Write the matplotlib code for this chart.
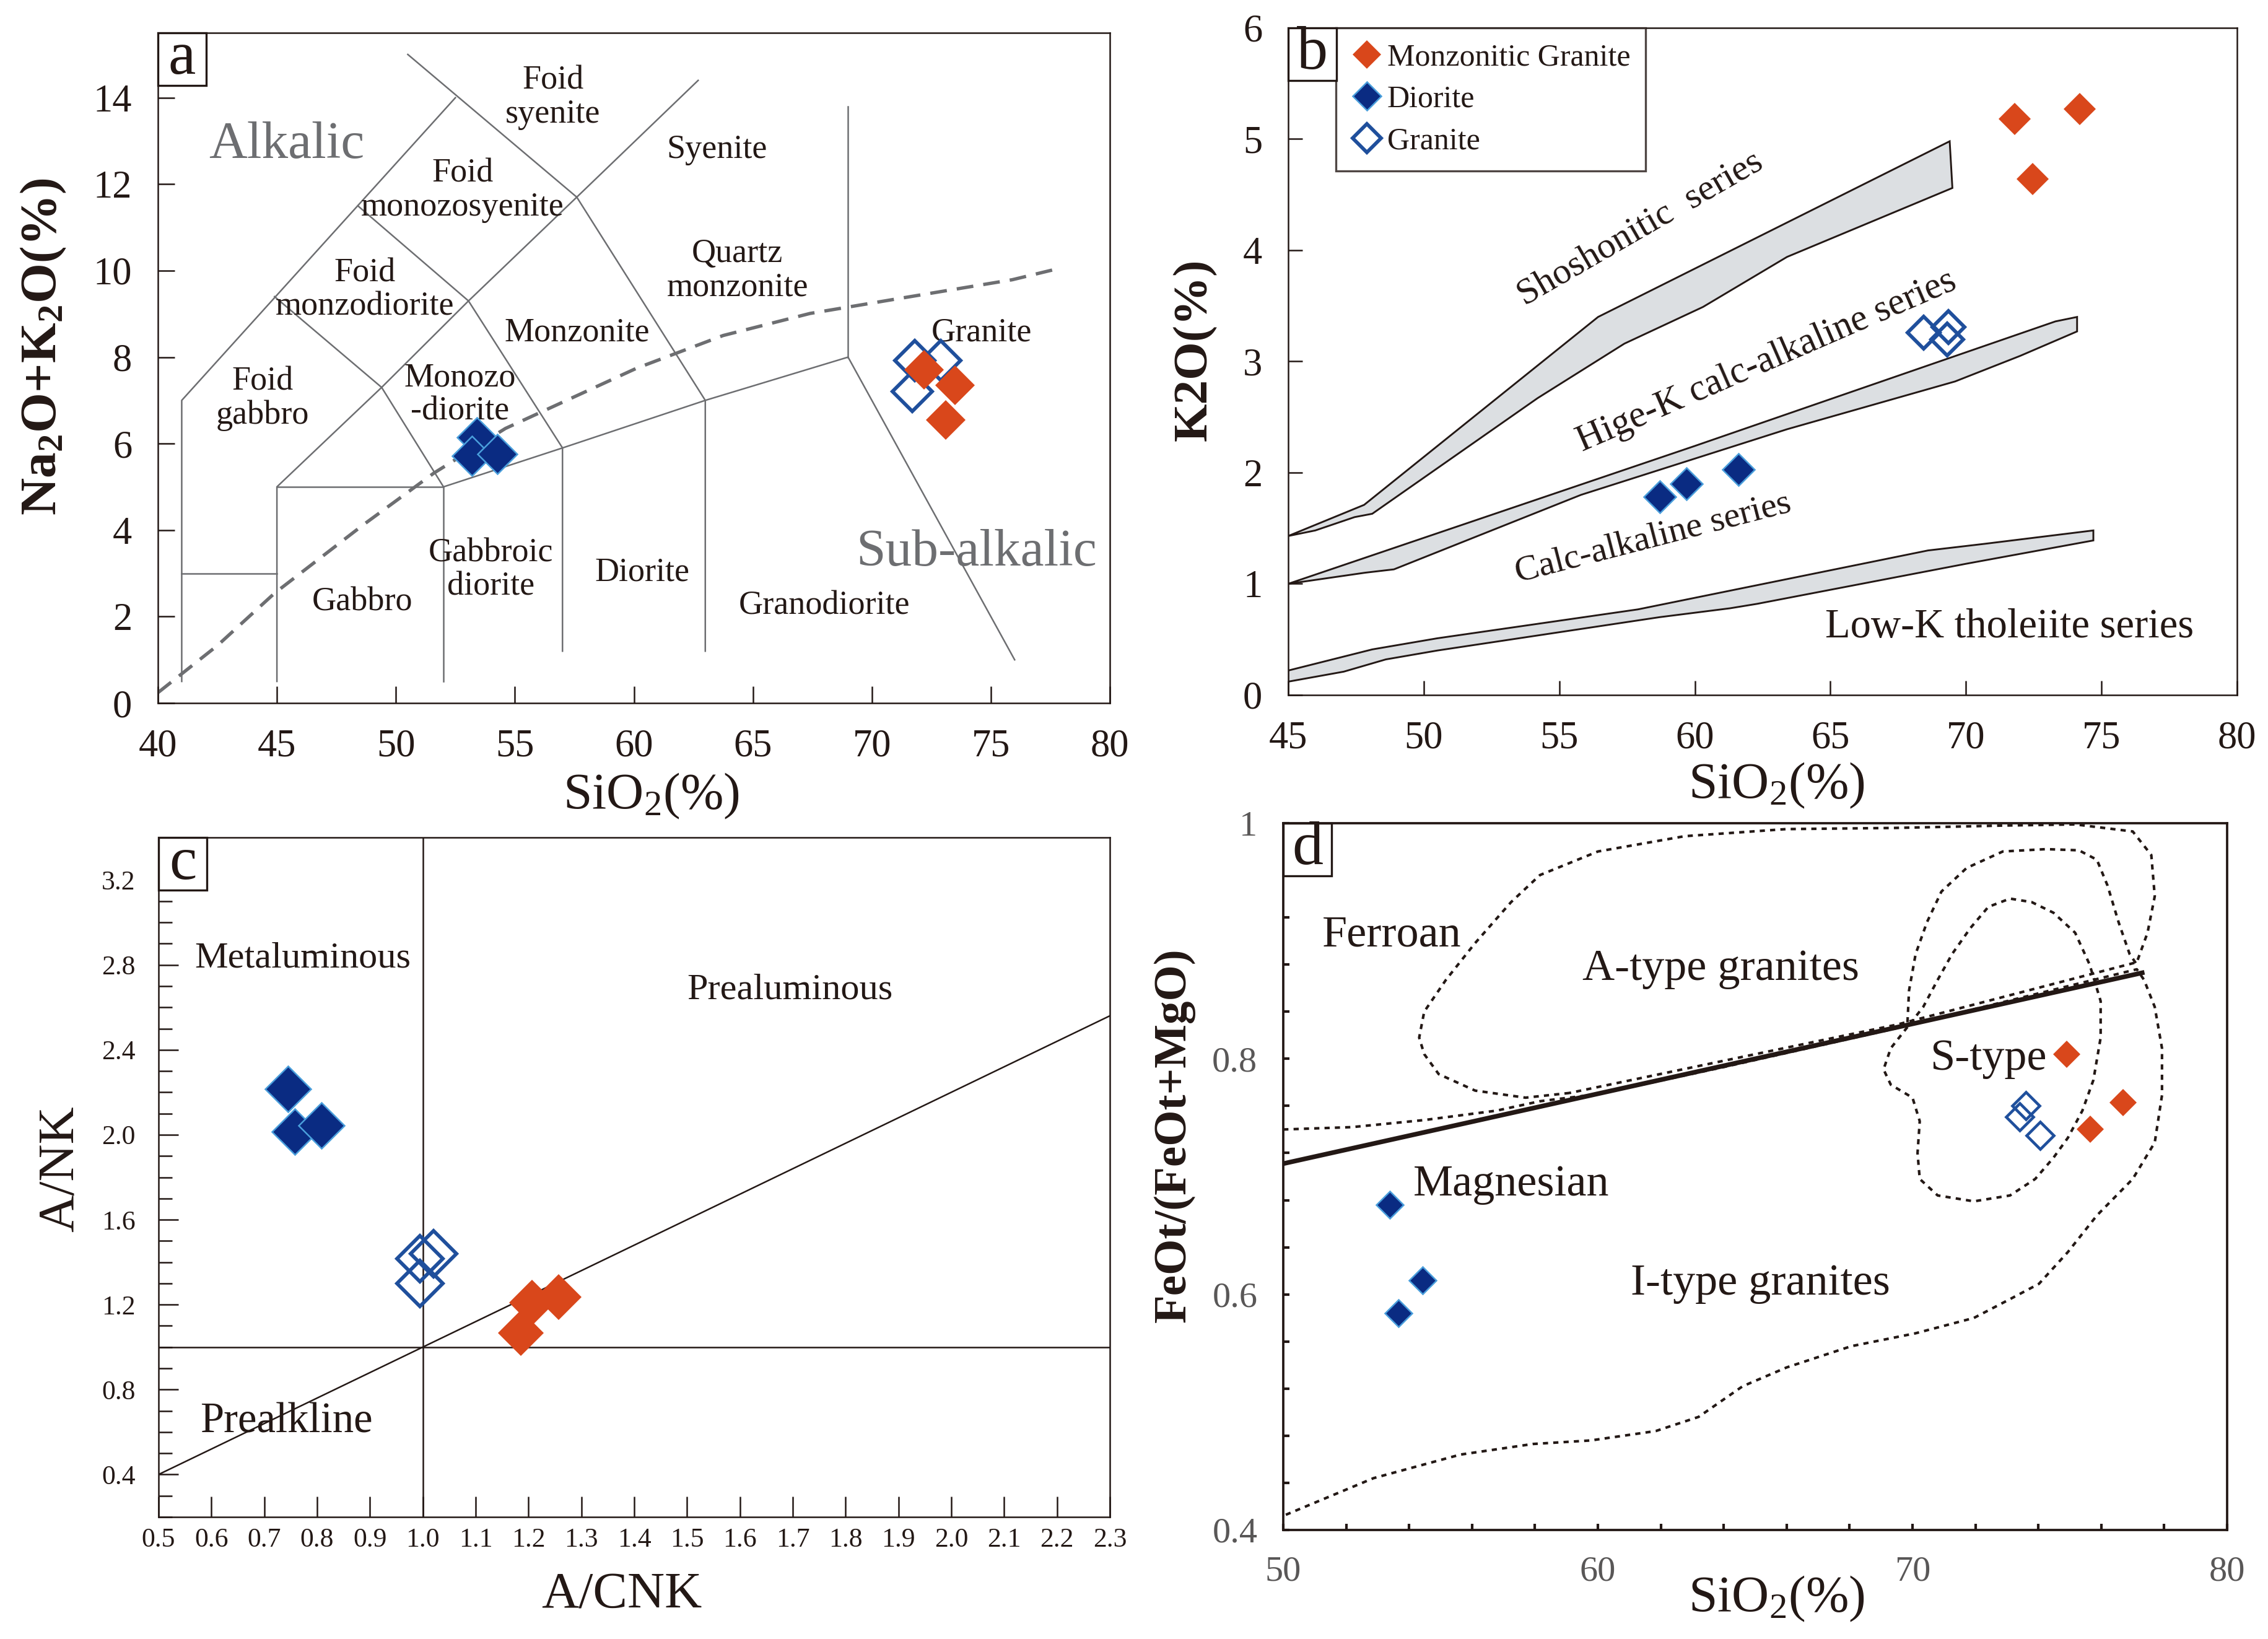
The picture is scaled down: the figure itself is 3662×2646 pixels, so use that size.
import numpy as np
import matplotlib
matplotlib.use('Agg')
from matplotlib import pyplot as plt
from matplotlib.patches import Rectangle
from matplotlib.ticker import MultipleLocator, FormatStrFormatter

plt.rcParams['font.family'] = ['Liberation Serif', 'DejaVu Serif']
plt.rcParams['mathtext.default'] = 'regular'

W, H, DPI = 3662, 2646, 300

ORANGE = '#d9471b'
NAVY = '#0a2b82'
NAVY_EDGE = '#4a9fdc'
BLUE = '#1f4f9c'
GRAY = '#6d6e71'
INK = '#231815'

# ---------------- panel a : TAS
a_mg_sio2 = [72.2, 73.5, 73.1]
a_mg_alk = [7.70, 7.35, 6.55]
a_dio_sio2 = [53.4, 53.2, 54.25]
a_dio_alk = [6.15, 5.72, 5.76]
a_gr_sio2 = [71.8, 72.9, 71.7]
a_gr_alk = [7.92, 7.92, 7.20]

a_field_lines = [
    [(41, 0.5), (41, 7), (52.5, 14.0)],
    [(50.5, 15.0), (57.6, 11.7), (63, 7), (63, 1.2)],
    [(57.6, 11.7), (62.7, 14.4)],
    [(48.4, 11.5), (53.05, 9.3), (57.6, 11.7)],
    [(44.9, 9.4), (49.4, 7.3), (53.05, 9.3), (57, 5.9), (57, 1.2)],
    [(49.4, 7.3), (45, 5), (45, 0.5)],
    [(49.4, 7.3), (52, 5)],
    [(45, 5), (52, 5), (52, 0.5)],
    [(52, 5), (57, 5.9), (63, 7), (69, 8), (76, 1.0)],
    [(69, 8), (69, 13.8)],
    [(41, 3), (45, 3)],
]
a_divide_sio2 = [40, 42.5, 44.9, 48.6, 51.6, 54.6, 56.5, 60.1, 63.75, 67.4, 71.3, 75.9, 77.7]
a_divide_alk = [0.24, 1.33, 2.54, 4.11, 5.32, 6.35, 6.83, 7.74, 8.50, 9.01, 9.37, 9.79, 10.03]
a_field_names = [
    ('Foid\nsyenite', 56.6, 14.0), ('Syenite', 63.5, 12.8),
    ('Foid\nmonozosyenite', 52.8, 11.85), ('Quartz\nmonzonite', 64.35, 10.0),
    ('Foid\nmonzodiorite', 48.7, 9.55), ('Monzonite', 57.6, 8.56),
    ('Granite', 74.6, 8.56), ('Foid\ngabbro', 44.4, 7.04),
    ('Monozo\n-diorite', 52.7, 7.13), ('Gabbroic\ndiorite', 54.0, 3.08),
    ('Diorite', 60.35, 3.02), ('Gabbro', 48.6, 2.33),
    ('Granodiorite', 68.0, 2.24),
]
a_series_names = [('Alkalic', 45.4, 12.9), ('Sub-alkalic', 74.4, 3.48)]

# ---------------- panel b : K2O vs SiO2
b_mg_sio2 = [71.8, 74.2, 72.45]
b_mg_k2o = [5.18, 5.27, 4.64]
b_dio_sio2 = [58.7, 59.7, 61.6]
b_dio_k2o = [1.78, 1.90, 2.03]
b_gr_sio2 = [68.45, 69.35, 69.3]
b_gr_k2o = [3.26, 3.31, 3.20]

b_band_upper = [
    [(45, 1.43), (47.8, 1.71), (56.43, 3.40), (69.4, 4.98)],
    [(45, 1.0), (60, 2.24), (73.3, 3.36), (74.1, 3.40)],
    [(45, 0.22), (48.1, 0.41), (50.5, 0.51), (57.9, 0.77), (68.6, 1.30), (70.7, 1.36), (74.7, 1.48)],
]
b_band_lower = [
    [(45, 1.43), (46.0, 1.48), (47.45, 1.60), (48.1, 1.63), (54.2, 2.67), (57.4, 3.16), (60.3, 3.49),
     (63.4, 3.94), (69.5, 4.56)],
    [(45, 1.0), (47.84, 1.10), (48.9, 1.13), (55.8, 1.80), (63.4, 2.39), (69.6, 2.82), (72.0, 3.05),
     (74.1, 3.27)],
    [(45, 0.12), (47.05, 0.21), (48.6, 0.32), (50.5, 0.40), (58.7, 0.70), (61.3, 0.78), (62.3, 0.82),
     (70, 1.18), (74.7, 1.39)],
]
b_series_names = [
    ('Shoshonitic  series', 58.0, 4.19, 30, 14.3),
    ('Hige-K calc-alkaline series', 62.65, 3.0, 23.5, 14.6),
    ('Calc-alkaline series', 58.47, 1.41, 14.5, 14),
    ('Low-K tholeiite series', 71.6, 0.61, 0, 16),
]

# ---------------- panel c : A/NK vs A/CNK
c_mg_acnk = [1.207, 1.257, 1.186]
c_mg_ank = [1.21, 1.235, 1.065]
c_dio_acnk = [0.745, 0.758, 0.808]
c_dio_ank = [2.215, 2.015, 2.045]
c_gr_acnk = [0.995, 1.02, 0.995]
c_gr_ank = [1.415, 1.44, 1.30]
c_divide_acnk = [0.5, 2.3]
c_divide_ank = [0.4, 2.56]
c_field_names = [('Metaluminous', 0.773, 2.83, 14.5), ('Prealuminous', 1.694, 2.68, 14.5),
                 ('Prealkline', 0.742, 0.646, 16.5)]

# ---------------- panel d : FeOt/(FeOt+MgO) vs SiO2
d_mg_sio2 = [74.9, 75.65, 76.7]
d_mg_fe = [0.804, 0.740, 0.763]
d_dio_sio2 = [53.38, 54.42, 53.66]
d_dio_fe = [0.676, 0.612, 0.584]
d_gr_sio2 = [73.6, 73.4, 74.05]
d_gr_fe = [0.760, 0.751, 0.735]
d_divide_sio2 = [50, 77.3]
d_divide_fe = [0.711, 0.873]

d_atype = [(59.1, 0.771), (57.7, 0.767), (56.1, 0.773), (54.94, 0.787), (54.48, 0.804), (54.32, 0.818),
           (54.48, 0.840), (55.17, 0.867), (56.09, 0.898), (57.24, 0.933), (58.16, 0.956), (60.0, 0.976),
           (62.76, 0.989), (65.98, 0.995), (69.43, 0.996), (72.87, 0.998), (75.17, 0.999), (77.0, 0.993),
           (77.59, 0.973), (77.7, 0.938), (77.47, 0.907), (77.13, 0.882), (69.5, 0.829), (59.1, 0.771)]
d_itype = [(50.0, 0.740), (52.18, 0.742), (54.48, 0.748), (56.78, 0.756), (58.16, 0.764), (60.0, 0.770),
           (64.0, 0.793), (69.5, 0.826), (77.13, 0.876), (77.36, 0.867), (77.7, 0.844), (77.93, 0.809),
           (77.93, 0.769), (77.7, 0.729), (77.0, 0.698), (75.86, 0.667), (74.94, 0.636), (74.02, 0.609),
           (73.1, 0.596), (71.95, 0.580), (70.1, 0.567), (68.05, 0.556), (66.0, 0.538), (64.6, 0.522),
           (63.2, 0.496), (61.84, 0.484), (59.77, 0.476), (57.93, 0.473), (55.63, 0.464), (52.87, 0.444),
           (50.0, 0.412)]
d_stype_outer = [(69.84, 0.831), (69.89, 0.858), (70.1, 0.889), (70.46, 0.916), (70.92, 0.942),
                 (71.72, 0.962), (72.87, 0.976), (74.25, 0.978), (75.29, 0.977), (75.86, 0.969),
                 (76.2, 0.947), (76.55, 0.916), (76.9, 0.889), (77.13, 0.880)]
d_stype = [(69.84, 0.827), (69.31, 0.809), (69.08, 0.791), (69.31, 0.778), (70.0, 0.767), (70.23, 0.747),
           (70.16, 0.720), (70.23, 0.698), (70.8, 0.684), (71.95, 0.679), (73.1, 0.684), (73.9, 0.698),
           (74.48, 0.716), (74.94, 0.733), (75.4, 0.756), (75.75, 0.782), (75.98, 0.818), (75.98, 0.849),
           (75.63, 0.880), (75.17, 0.907), (74.48, 0.924), (73.79, 0.933), (73.1, 0.936), (72.41, 0.929),
           (71.84, 0.911), (71.26, 0.889), (70.8, 0.867), (70.34, 0.844), (69.84, 0.827)]
d_field_names = [('Ferroan', 53.45, 0.905), ('A-type granites', 63.9, 0.876), ('S-type', 72.4, 0.800),
                 ('Magnesian', 57.24, 0.693), ('I-type granites', 65.17, 0.609)]


def px_axes(fig, left, top, right, bottom):
    ax = fig.add_axes([left / W, 1 - bottom / H, (right - left) / W, (bottom - top) / H])
    ax.px = (right - left, bottom - top)
    return ax


def letter_box(ax, letter, box_w=78, box_h=85):
    w = box_w / ax.px[0]
    h = box_h / ax.px[1]
    ax.add_patch(Rectangle((0, 1 - h), w, h, transform=ax.transAxes, facecolor='white',
                           edgecolor=INK, lw=0.8, zorder=6, clip_on=False))
    ax.text(w / 2, 1 - h / 2, letter, transform=ax.transAxes, ha='center', va='center',
            fontsize=24, color=INK, zorder=7)


def fig_label(fig, x, y, text, size, rotation=0, weight='normal'):
    fig.text(x / W, 1 - y / H, text, ha='center', va='center', fontsize=size,
             rotation=rotation, fontweight=weight, color=INK)


def plot_samples(ax, mg, dio, gr, ms, mew_gr=1.4):
    ax.plot(gr[0], gr[1], 'D', ls='none', ms=ms, mfc='none', mec=BLUE, mew=mew_gr, zorder=4)
    ax.plot(dio[0], dio[1], 'D', ls='none', ms=ms, mfc=NAVY, mec=NAVY_EDGE, mew=0.6, zorder=4)
    ax.plot(mg[0], mg[1], 'D', ls='none', ms=ms, mfc=ORANGE, mec=ORANGE, mew=0, zorder=4)


def style_axes(ax, lw=0.6):
    for s in ax.spines.values():
        s.set_linewidth(lw)
        s.set_color(INK)


fig = plt.figure(figsize=(W / DPI, H / DPI), dpi=DPI)

# ---------- a
ax = px_axes(fig, 255, 53, 1792, 1135)
style_axes(ax)
for seg in a_field_lines:
    xs, ys = zip(*seg)
    ax.plot(xs, ys, color=GRAY, lw=0.6, zorder=2)
ax.plot(a_divide_sio2, a_divide_alk, color=GRAY, lw=1.3, dashes=(5, 3), zorder=2)
for name, x, y in a_field_names:
    ax.text(x, y, name, ha='center', va='center', fontsize=13, color=INK, linespacing=1.1)
for name, x, y in a_series_names:
    ax.text(x, y, name, ha='center', va='center', fontsize=20.5, color=GRAY)
plot_samples(ax, (a_mg_sio2, a_mg_alk), (a_dio_sio2, a_dio_alk), (a_gr_sio2, a_gr_alk), ms=11)
ax.set_xlim(40, 80)
ax.set_ylim(0, 15.5)
ax.set_xticks(np.arange(40, 81, 5))
ax.set_yticks(np.arange(0, 15, 2))
ax.tick_params(direction='in', length=6.5, width=0.6, labelsize=15, pad=10, colors=INK)
letter_box(ax, 'a')
fig_label(fig, 70, 560, 'Na$_2$O+K$_2$O(%)', 20, rotation=90, weight='bold')
fig_label(fig, 1051, 1285, 'SiO$_2$(%)', 20)

# ---------- b
ax = px_axes(fig, 2080, 45, 3612, 1122)
style_axes(ax)
for up, lo in zip(b_band_upper, b_band_lower):
    poly = np.array(up + lo[::-1])
    ax.fill(poly[:, 0], poly[:, 1], facecolor='#dcdfe2', edgecolor=INK, lw=0.7, zorder=2)
for name, x, y, rot, size in b_series_names:
    ax.text(x, y, name, ha='center', va='center', fontsize=size, color=INK, rotation=rot,
            rotation_mode='anchor')
plot_samples(ax, (b_mg_sio2, b_mg_k2o), (b_dio_sio2, b_dio_k2o), (b_gr_sio2, b_gr_k2o), ms=8.7)
ax.set_xlim(45, 80)
ax.set_ylim(0, 6)
ax.set_xticks(np.arange(45, 81, 5))
ax.set_yticks(np.arange(0, 7, 1))
ax.tick_params(direction='in', length=5.5, width=0.6, labelsize=15, pad=10, colors=INK)
h_mg, = ax.plot([], [], 'D', ls='none', ms=7.8, mfc=ORANGE, mec=ORANGE, mew=0)
h_dio, = ax.plot([], [], 'D', ls='none', ms=7.8, mfc=NAVY, mec=NAVY_EDGE, mew=0.6)
h_gr, = ax.plot([], [], 'D', ls='none', ms=7.8, mfc='white', mec=BLUE, mew=1.4)
leg = ax.legend([h_mg, h_dio, h_gr], ['Monzonitic Granite', 'Diorite', 'Granite'],
                loc='upper left', bbox_to_anchor=(77 / ax.px[0], 1.0), fontsize=12,
                frameon=True, fancybox=False, borderaxespad=0, borderpad=0.5,
                labelspacing=0.42, handlelength=1.0, handletextpad=0.15)
leg.get_frame().set_edgecolor(INK)
leg.get_frame().set_linewidth(0.8)
for t in leg.get_texts():
    t.set_color(INK)
letter_box(ax, 'b')
fig_label(fig, 1929, 565, 'K2O(%)', 19, rotation=90, weight='bold')
fig_label(fig, 2868, 1268, 'SiO$_2$(%)', 20)

# ---------- c
ax = px_axes(fig, 256, 1352, 1792, 2449)
style_axes(ax)
ax.axvline(1.0, color=INK, lw=0.6, zorder=2)
ax.axhline(1.0, color=INK, lw=0.6, zorder=2)
ax.plot(c_divide_acnk, c_divide_ank, color=INK, lw=0.6, zorder=2)
for name, x, y, size in c_field_names:
    ax.text(x, y, name, ha='center', va='center', fontsize=size, color=INK)
plot_samples(ax, (c_mg_acnk, c_mg_ank), (c_dio_acnk, c_dio_ank), (c_gr_acnk, c_gr_ank), ms=12.5)
ax.set_xlim(0.5, 2.3)
ax.set_ylim(0.2, 3.4)
ax.xaxis.set_major_locator(MultipleLocator(0.1))
ax.xaxis.set_major_formatter(FormatStrFormatter('%.1f'))
ax.set_yticks(np.arange(0.4, 3.3, 0.4))
ax.yaxis.set_major_formatter(FormatStrFormatter('%.1f'))
ax.yaxis.set_minor_locator(MultipleLocator(0.1))
ax.tick_params(axis='x', direction='in', length=8, width=0.6, labelsize=10.5, pad=4, colors=INK)
ax.tick_params(axis='y', which='major', direction='in', length=7.7, width=0.6, labelsize=10.5,
               pad=9, colors=INK)
ax.tick_params(axis='y', which='minor', direction='in', length=5.2, width=0.6, colors=INK)
letter_box(ax, 'c')
fig_label(fig, 98, 1887, 'A/NK', 20, rotation=90)
fig_label(fig, 1004, 2576, 'A/CNK', 20)

# ---------- d
ax = px_axes(fig, 2072, 1329, 3596, 2470)
style_axes(ax, lw=0.9)
for curve in (d_atype, d_itype, d_stype_outer, d_stype):
    xs, ys = zip(*curve)
    ax.plot(xs, ys, color=INK, lw=1.0, dashes=(2, 2), zorder=2)
ax.plot(d_divide_sio2, d_divide_fe, color=INK, lw=1.8, zorder=3)
for name, x, y in d_field_names:
    ax.text(x, y, name, ha='center', va='center', fontsize=17.3, color=INK)
plot_samples(ax, (d_mg_sio2, d_mg_fe), (d_dio_sio2, d_dio_fe), (d_gr_sio2, d_gr_fe), ms=7.5, mew_gr=1.1)
ax.set_xlim(50, 80)
ax.set_ylim(0.4, 1.0)
ax.set_xticks([50, 60, 70, 80])
ax.xaxis.set_minor_locator(MultipleLocator(2))
ax.set_yticks([0.4, 0.6, 0.8, 1.0])
ax.set_yticklabels(['0.4', '0.6', '0.8', '1'])
ax.yaxis.set_minor_locator(MultipleLocator(0.04))
ax.tick_params(which='both', direction='in', length=2.5, width=1.0, labelsize=14, pad=10,
               colors=INK, labelcolor='#595757')
letter_box(ax, 'd')
fig_label(fig, 1896, 1833, 'FeOt/(FeOt+MgO)', 18, rotation=90, weight='bold')
fig_label(fig, 2868, 2581, 'SiO$_2$(%)', 20)

fig.savefig('out.png', dpi=DPI, facecolor='white')
